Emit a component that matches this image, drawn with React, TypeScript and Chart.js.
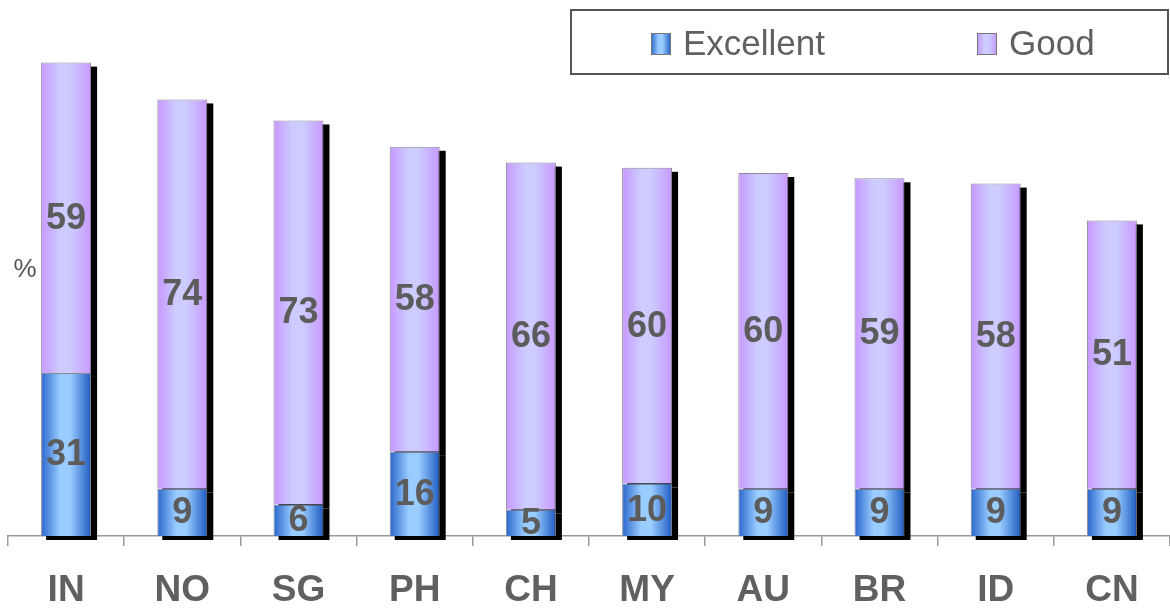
import React, { useEffect, useRef } from "react";
import { Chart, registerables } from "chart.js";

Chart.register(...registerables);

const categories = ["IN", "NO", "SG", "PH", "CH", "MY", "AU", "BR", "ID", "CN"];
const excellent = [31, 9, 6, 16, 5, 10, 9, 9, 9, 9];
const good = [59, 74, 73, 58, 66, 60, 60, 59, 58, 51];
const seriesNames = ["Excellent", "Good"];
const yUnit = "%";

const FONT = "'Liberation Sans', Arial, sans-serif";
const TEXT = "#606060";

const palettes = [
  ["#2a66cc", "#99ccff", "#99ccff", "#1f5cc2"],
  ["#c898ff", "#ccccff", "#ccccff", "#c898ff"],
];

function makeGradient(ctx: CanvasRenderingContext2D, x0: number, x1: number, pal: string[]) {
  const g = ctx.createLinearGradient(x0, 0, x1, 0);
  g.addColorStop(0, pal[0]);
  g.addColorStop(0.38, pal[1]);
  g.addColorStop(0.58, pal[2]);
  g.addColorStop(1, pal[3]);
  return g;
}

const BAR_PCT = 0.43;

function barBg(dsIndex: number) {
  return (context: any) => {
    const chart = context.chart;
    const xs = chart.scales?.x;
    if (!chart.chartArea || !xs) return palettes[dsIndex][1];
    const cx = xs.getPixelForValue(context.dataIndex);
    const w = (chart.chartArea.width / categories.length) * BAR_PCT;
    return makeGradient(chart.ctx, cx - w / 2, cx + w / 2, palettes[dsIndex]);
  };
}

const shadowPlugin = {
  id: "shadow",
  beforeDatasetsDraw(chart: any) {
    const ctx = chart.ctx;
    ctx.save();
    ctx.fillStyle = "#000";
    chart.data.datasets.forEach((_: any, i: number) => {
      const meta = chart.getDatasetMeta(i);
      meta.data.forEach((el: any) => {
        const w = el.width;
        ctx.fillRect(el.x - w / 2 + 5, el.y + 4, w + 1, el.base - el.y);
      });
    });
    ctx.restore();
  },
};

const labelPlugin = {
  id: "segLabels",
  afterDatasetsDraw(chart: any) {
    const ctx = chart.ctx;
    ctx.save();
    ctx.font = `bold 36px ${FONT}`;
    ctx.fillStyle = "#5c5c5c";
    ctx.textAlign = "center";
    ctx.textBaseline = "middle";
    chart.data.datasets.forEach((ds: any, i: number) => {
      const meta = chart.getDatasetMeta(i);
      meta.data.forEach((el: any, j: number) => {
        const y = (el.y + el.base) / 2;
        ctx.fillText(String(ds.data[j]), el.x, y + 1);
      });
    });
    ctx.restore();
  },
};

const extrasPlugin = {
  id: "extras",
  afterDraw(chart: any) {
    const ctx = chart.ctx;
    const ca = chart.chartArea;
    ctx.save();
    // y unit
    ctx.font = `26px ${FONT}`;
    ctx.fillStyle = "#555";
    ctx.textAlign = "center";
    ctx.textBaseline = "middle";
    ctx.fillText(yUnit, ca.left + 17, 270);
    // legend box
    const bx = 571, by = 10, bw = 597, bh = 64;
    ctx.strokeStyle = "#555";
    ctx.lineWidth = 2;
    ctx.strokeRect(bx, by, bw, bh);
    const items = [
      { x: 651, name: seriesNames[0], pal: palettes[0] },
      { x: 977, name: seriesNames[1], pal: palettes[1] },
    ];
    items.forEach((it) => {
      ctx.fillStyle = makeGradient(ctx, it.x, it.x + 20, it.pal);
      ctx.fillRect(it.x, 33, 20, 22);
      ctx.strokeStyle = "#777";
      ctx.lineWidth = 1;
      ctx.strokeRect(it.x + 0.5, 33.5, 19, 21);
      ctx.fillStyle = TEXT;
      ctx.font = `35px ${FONT}`;
      ctx.textAlign = "left";
      ctx.textBaseline = "middle";
      ctx.fillText(it.name, it.x + 32, 45);
    });
    ctx.restore();
  },
};

export default function App() {
  const ref = useRef<HTMLCanvasElement | null>(null);
  useEffect(() => {
    if (!ref.current) return;
    const chart = new Chart(ref.current, {
      type: "bar",
      data: {
        labels: categories,
        datasets: [
          {
            label: seriesNames[0],
            data: excellent,
            backgroundColor: barBg(0),
            borderColor: "#8a8a9a",
            borderWidth: 1,
            barPercentage: BAR_PCT,
            categoryPercentage: 1,
          },
          {
            label: seriesNames[1],
            data: good,
            backgroundColor: barBg(1),
            borderColor: "#8a8a9a",
            borderWidth: 1,
            barPercentage: BAR_PCT,
            categoryPercentage: 1,
          },
        ],
      },
      options: {
        animation: false,
        responsive: false,
        maintainAspectRatio: false,
        layout: { padding: { left: 8, right: 0, top: 10, bottom: 0 } },
        plugins: { legend: { display: false }, tooltip: { enabled: false } },
        scales: {
          x: {
            stacked: true,
            offset: true,
            afterFit: (s: any) => {
              s.height = 72;
            },
            border: { display: true, color: "#999", width: 1.5 },
            grid: {
              display: true,
              drawOnChartArea: false,
              drawTicks: true,
              tickLength: 10,
              color: "#999",
              lineWidth: 1.5,
              offset: true,
            },
            ticks: {
              color: TEXT,
              padding: 26,
              font: { family: FONT, size: 37, weight: "bold", lineHeight: 1 },
            },
          },
          y: {
            stacked: true,
            display: false,
            min: 0,
            max: 100,
          },
        },
      },
      plugins: [shadowPlugin, labelPlugin, extrasPlugin],
    });
    return () => chart.destroy();
  }, []);
  return (
    <div style={{ position: "fixed", left: 0, top: 0, width: 1170, height: 608, background: "#fff" }}>
      <canvas ref={ref} width={1170} height={608} style={{ width: 1170, height: 608 }} />
    </div>
  );
}
